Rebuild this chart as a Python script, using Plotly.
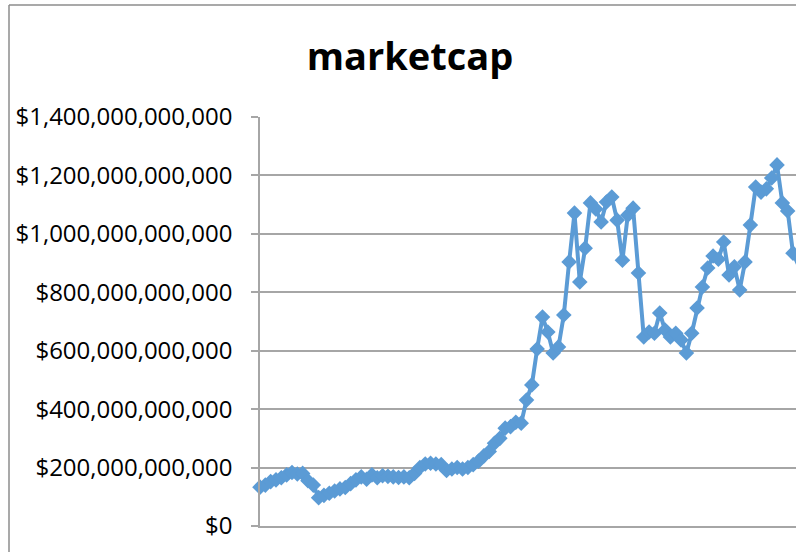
import plotly.graph_objects as go

# Monthly observation index and market capitalisation (billions of USD)
periods = list(range(102))
marketcap_bn = [
    133, 140, 152, 158, 165, 175, 183, 178, 180, 155,
    140, 97, 105, 112, 120, 127, 132, 145, 158, 168,
    160, 175, 165, 172, 170, 168, 166, 168, 165, 180,
    200, 212, 215, 212, 210, 190, 195, 200, 195, 200,
    210, 222, 240, 255, 283, 300, 335, 340, 355, 352,
    431, 483, 606, 715, 664, 592, 613, 722, 904, 1071,
    835, 951, 1106, 1085, 1041, 1109, 1126, 1047, 910, 1064,
    1088, 866, 647, 664, 660, 729, 671, 647, 660, 637,
    592, 660, 746, 818, 883, 924, 913, 972, 859, 887,
    808, 904, 1030, 1160, 1143, 1154, 1191, 1236, 1106, 1078,
    934, 893,
]
marketcap = [v * 1e9 for v in marketcap_bn]
y_ticks = [0, 2e11, 4e11, 6e11, 8e11, 1e12, 1.2e12, 1.4e12]

BLUE = "#5B9BD5"
GRID = "#A6A6A6"
FONT = "Open Sans"

fig = go.Figure(
    go.Scatter(
        x=periods,
        y=marketcap,
        mode="lines+markers",
        line=dict(color=BLUE, width=4),
        marker=dict(symbol="diamond", size=12, color=BLUE),
        cliponaxis=False,
        showlegend=False,
    )
)

fig.update_layout(
    width=796,
    height=552,
    margin=dict(l=260, r=0, t=117, b=26),
    paper_bgcolor="white",
    plot_bgcolor="white",
    font=dict(family=FONT, color="black"),
    title=dict(
        text="<b>marketcap</b>",
        font=dict(family=FONT, size=38, color="black"),
        x=410 / 796,
        xref="container",
        xanchor="center",
        y=1 - 57 / 552,
        yref="container",
        yanchor="middle",
    ),
    xaxis=dict(
        range=[0, (796 - 260) / 5.33],
        showticklabels=False,
        showgrid=False,
        zeroline=False,
        showline=True,
        linecolor=GRID,
        linewidth=1.5,
        ticks="",
    ),
    yaxis=dict(
        range=[0, 1.4e12],
        tickvals=y_ticks,
        tickformat="$,.0f",
        tickfont=dict(family=FONT, size=24, color="black"),
        showgrid=True,
        gridcolor=GRID,
        gridwidth=1.5,
        zeroline=False,
        showline=True,
        linecolor=GRID,
        linewidth=1.5,
        ticks="outside",
        ticklen=7,
        tickcolor=GRID,
        tickwidth=1.5,
        ticklabelstandoff=14,
    ),
    shapes=[
        # outer chart frame (left and top edges)
        dict(type="line", xref="paper", yref="paper",
             x0=(9 - 260) / 536, x1=(9 - 260) / 536,
             y0=1 + (117 - 5) / 409, y1=-0.2,
             line=dict(color="#8C8C8C", width=1.5)),
        dict(type="line", xref="paper", yref="paper",
             x0=(9 - 260) / 536, x1=1.1,
             y0=1 + (117 - 5) / 409, y1=1 + (117 - 5) / 409,
             line=dict(color="#8C8C8C", width=1.5)),
    ],
)

fig.write_html("out.html")
